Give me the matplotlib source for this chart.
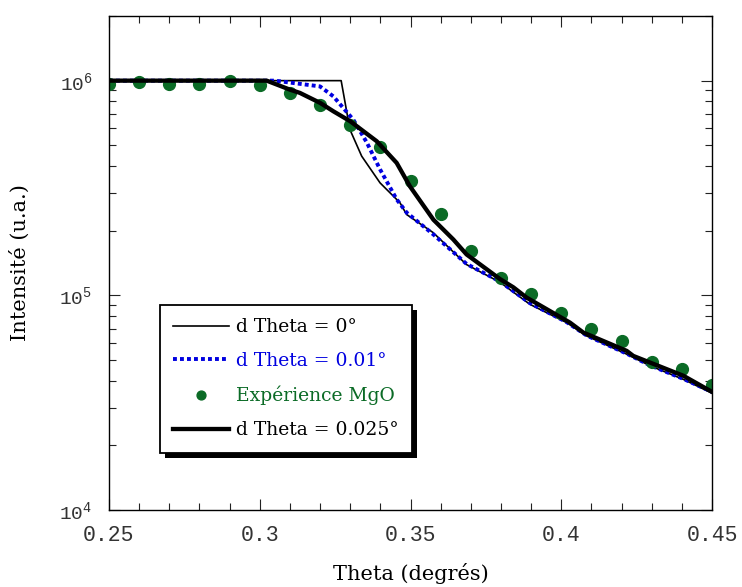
import numpy as np
import matplotlib
matplotlib.use('Agg')
import matplotlib.pyplot as plt
from matplotlib.patches import Rectangle
from matplotlib.ticker import FixedLocator, FixedFormatter, LogLocator, NullFormatter, MultipleLocator

plt.rcParams['mathtext.default'] = 'regular'

# donnees
theta_exp = [0.25, 0.26, 0.27, 0.28, 0.29, 0.30, 0.31, 0.32, 0.33, 0.34, 0.35,
             0.36, 0.37, 0.38, 0.39, 0.40, 0.41, 0.42, 0.43, 0.44, 0.45]
int_exp = [9.6e5, 9.9e5, 9.6e5, 9.6e5, 1.0e6, 9.5e5, 8.8e5, 7.7e5, 6.2e5, 4.9e5, 3.4e5,
           2.38e5, 1.61e5, 1.21e5, 1.01e5, 8.3e4, 6.95e4, 6.1e4, 4.9e4, 4.53e4, 3.83e4]

theta_d0 = [0.25, 0.327, 0.3299, 0.3338, 0.3399, 0.3465, 0.3487, 0.3575, 0.3686, 0.3797,
            0.3896, 0.4018, 0.4084, 0.4217, 0.4294, 0.4405, 0.45]
int_d0 = [1e6, 1e6, 5.92e5, 4.45e5, 3.34e5, 2.70e5, 2.38e5, 1.96e5, 1.39e5, 1.15e5,
          9.08e4, 7.46e4, 6.47e4, 5.32e4, 4.70e4, 4.06e4, 3.5e4]

theta_d01 = [0.25, 0.305, 0.32, 0.3244, 0.3277, 0.331, 0.3355, 0.3399, 0.3454, 0.3487,
             0.3576, 0.3686, 0.3797, 0.3896, 0.4018, 0.4084, 0.4217, 0.4294, 0.4405, 0.45]
int_d01 = [1e6, 1e6, 9.4e5, 8.45e5, 7.46e5, 6.59e5, 5.15e5, 3.86e5, 2.8e5, 2.43e5,
           1.92e5, 1.40e5, 1.16e5, 9.2e4, 7.5e4, 6.5e4, 5.35e4, 4.72e4, 4.08e4, 3.55e4]

theta_d025 = [0.25, 0.3023, 0.31, 0.3133, 0.32, 0.3244, 0.33, 0.3388, 0.3454, 0.3498,
              0.3576, 0.3642, 0.3686, 0.3797, 0.3841, 0.3885, 0.4029, 0.4073, 0.4217,
              0.4239, 0.4405, 0.45]
int_d025 = [1e6, 1e6, 9.08e5, 8.77e5, 7.88e5, 7.2e5, 6.47e5, 5.22e5, 4.14e5, 3.22e5,
            2.25e5, 1.82e5, 1.55e5, 1.19e5, 1.09e5, 9.76e4, 7.46e4, 6.71e4, 5.51e4,
            5.22e4, 4.22e4, 3.55e4]

x_ticks = [0.25, 0.3, 0.35, 0.4, 0.45]
x_labels = ['0.25', '0.3', '0.35', '0.4', '0.45']
y_ticks = [1e4, 1e5, 1e6]
y_labels = ['10$^{4}$', '10$^{5}$', '10$^{6}$']

vert = '#0b6b26'
bleu = '#0000e0'

fig = plt.figure(figsize=(7.42, 5.87), dpi=100)
ax = fig.add_axes([0.1469, 0.1312, 0.8127, 0.8415])

ax.plot(theta_d0, int_d0, color='black', lw=1.2, label='d Theta = 0°')
ax.plot(theta_d01, int_d01, color=bleu, lw=2.8, linestyle=(0, (1, 0.8)), label='d Theta = 0.01°')
ax.plot(theta_exp, int_exp, 'o', color=vert, ms=8.5, label='Expérience MgO')
ax.plot(theta_d025, int_d025, color='black', lw=3.1, label='d Theta = 0.025°')

ax.set_yscale('log')
ax.set_xlim(0.25, 0.45)
ax.set_ylim(1e4, 2e6)

ax.xaxis.set_major_locator(FixedLocator(x_ticks))
ax.xaxis.set_major_formatter(FixedFormatter(x_labels))
ax.xaxis.set_minor_locator(MultipleLocator(0.01))
ax.yaxis.set_major_locator(FixedLocator(y_ticks))
ax.yaxis.set_major_formatter(FixedFormatter(y_labels))
ax.yaxis.set_minor_locator(LogLocator(base=10, subs=np.arange(2, 10)))
ax.yaxis.set_minor_formatter(NullFormatter())

ax.tick_params(which='both', direction='in', top=True, right=True, colors='#222222',
               labelcolor='#333333', width=0.8)
ax.tick_params(which='major', length=8)
ax.tick_params(which='minor', length=5)
ax.tick_params(axis='x', which='major', pad=11)
ax.tick_params(axis='y', which='major', pad=12)
for lab in ax.get_xticklabels():
    lab.set_family('Liberation Mono')
    lab.set_fontsize(15.5)
for lab in ax.get_yticklabels():
    lab.set_family('Liberation Mono')
    lab.set_fontsize(14)

for s in ax.spines.values():
    s.set_linewidth(1.0)

ax.set_xlabel('Theta (degrés)', family='DejaVu Serif', fontsize=15, labelpad=12)
ax.set_ylabel('Intensité (u.a.)', family='DejaVu Serif', fontsize=15, labelpad=21)

leg = ax.legend(loc='upper left', bbox_to_anchor=(0.0846, 0.415),
                prop={'family': 'DejaVu Serif', 'size': 13.5},
                labelcolor=['black', bleu, vert, 'black'], frameon=True, fancybox=False,
                edgecolor='black', framealpha=1, handlelength=3.0, labelspacing=0.85,
                borderpad=0.7, handletextpad=0.35, numpoints=1, markerscale=0.75,
                borderaxespad=0)
leg.get_frame().set_linewidth(1.3)
leg.set_zorder(6)

# ombre du cadre de legende
fig.canvas.draw()
bb = leg.get_frame().get_window_extent()
ombre = Rectangle((bb.x0 + 5, bb.y0 - 5), bb.width, bb.height, transform=None,
                  facecolor='black', edgecolor='none', zorder=5.5, clip_on=False)
ax.add_artist(ombre)

fig.savefig('out.png', dpi=100)
